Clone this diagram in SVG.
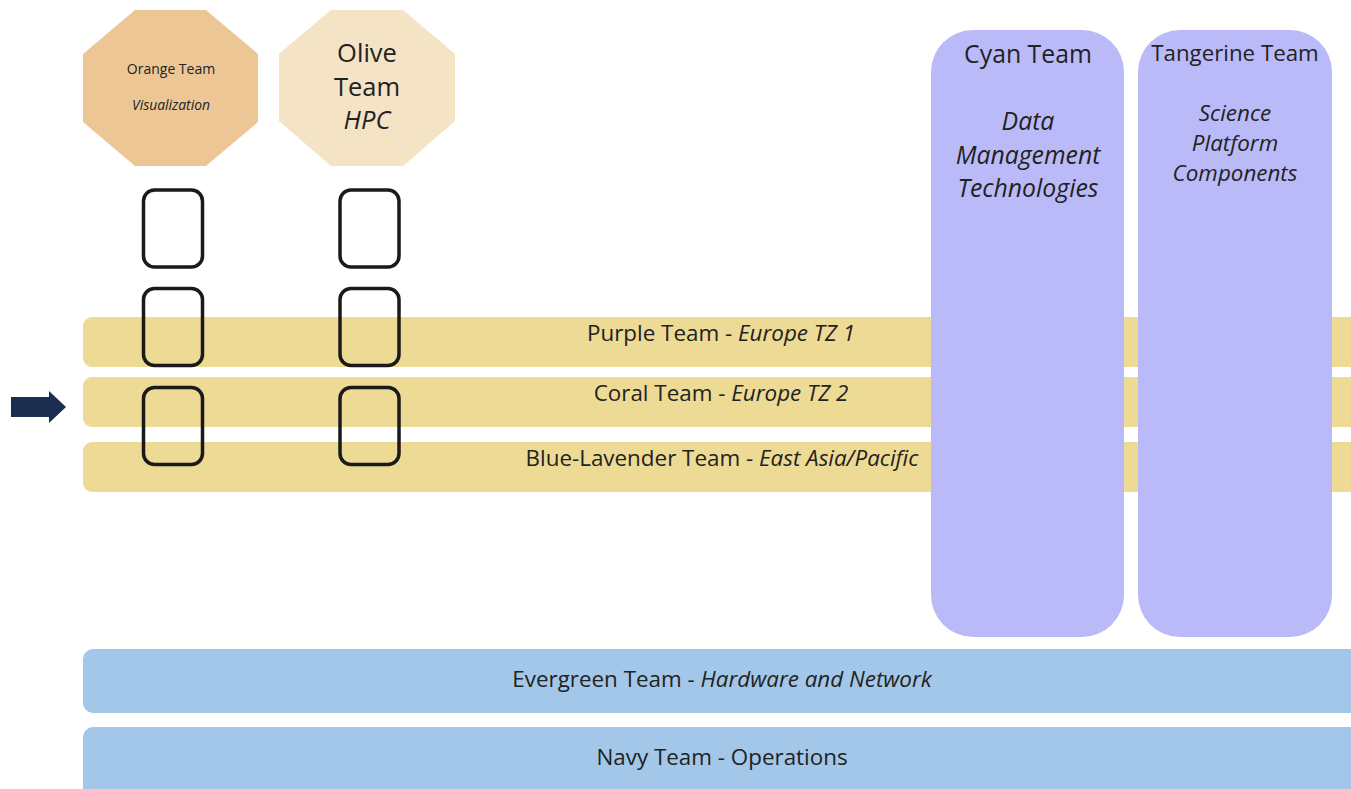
<svg xmlns="http://www.w3.org/2000/svg" width="1351" height="789" viewBox="0 0 1351 789">
<style>
text{font-family:"Open Sans","Noto Sans","DejaVu Sans",sans-serif;fill:#222;text-anchor:middle}
.it{font-style:italic}
.band-y{fill:#EDDA95}
.band-b{fill:#A2C7E8}
.col{fill:#BBBAF9}
.slot{fill:none;stroke:#1a1a1a;stroke-width:3.5}
.bt{font-size:22.4px}
</style>
<rect width="1351" height="789" fill="#fff"/>
<g id="purple-team">
<rect class="band-y" x="83" y="317" width="1290" height="50" rx="9"/>
<text class="bt" x="721" y="341">Purple Team - <tspan class="it">Europe TZ 1</tspan></text>
</g>
<g id="coral-team">
<rect class="band-y" x="83" y="377" width="1290" height="50" rx="9"/>
<text class="bt" x="721" y="401">Coral Team - <tspan class="it">Europe TZ 2</tspan></text>
</g>
<g id="blue-lavender-team">
<rect class="band-y" x="83" y="442" width="1290" height="50" rx="9"/>
<text class="bt" x="722" y="466">Blue-Lavender Team - <tspan class="it">East Asia/Pacific</tspan></text>
</g>
<g id="evergreen-team">
<rect class="band-b" x="83" y="649" width="1290" height="64" rx="10"/>
<text class="bt" x="722" y="687">Evergreen Team - <tspan class="it">Hardware and Network</tspan></text>
</g>
<g id="navy-team">
<rect class="band-b" x="83" y="727" width="1290" height="80" rx="10"/>
<text class="bt" x="722" y="765">Navy Team - Operations</text>
</g>
<g id="cyan-team">
<rect class="col" x="931" y="30" width="193" height="607" rx="42"/>
<text x="1028" y="63" font-size="24.8">Cyan Team</text>
<text class="it" font-size="24.8"><tspan x="1028" y="130">Data</tspan><tspan x="1028" y="164">Management</tspan><tspan x="1028" y="197">Technologies</tspan></text>
</g>
<g id="tangerine-team">
<rect class="col" x="1138" y="30" width="194" height="607" rx="42"/>
<text x="1235" y="61" font-size="22.3">Tangerine Team</text>
<text class="it" font-size="22.4"><tspan x="1235" y="121">Science</tspan><tspan x="1235" y="151">Platform</tspan><tspan x="1235" y="181">Components</tspan></text>
</g>
<g id="orange-team">
<polygon points="135,10 206,10 258,54 258,122 206,166 135,166 83,122 83,54" fill="#ECC795"/>
<text x="171" y="74" font-size="14">Orange Team</text>
<text x="171" y="110" font-size="13.9" class="it">Visualization</text>
</g>
<g id="olive-team">
<polygon points="331,10 403,10 455,54 455,121 403,166 331,166 279,121 279,54" fill="#F5E3C6"/>
<text font-size="25.5"><tspan x="367" y="62">Olive</tspan><tspan x="367" y="96">Team</tspan><tspan x="367" y="129" class="it">HPC</tspan></text>
</g>
<g id="slots">
<rect class="slot" x="143.5" y="190" width="59" height="77" rx="11"/>
<rect class="slot" x="143.5" y="288.5" width="59" height="77" rx="11"/>
<rect class="slot" x="143.5" y="387.5" width="59" height="77" rx="11"/>
<rect class="slot" x="340" y="190" width="59" height="77" rx="11"/>
<rect class="slot" x="340" y="288.5" width="59" height="77" rx="11"/>
<rect class="slot" x="340" y="387.5" width="59" height="77" rx="11"/>
</g>
<g id="connectors">
<polygon points="11,397 49,397 49,391 66,407 49,423 49,417 11,417" fill="#1B2E50"/>
</g>
</svg>
